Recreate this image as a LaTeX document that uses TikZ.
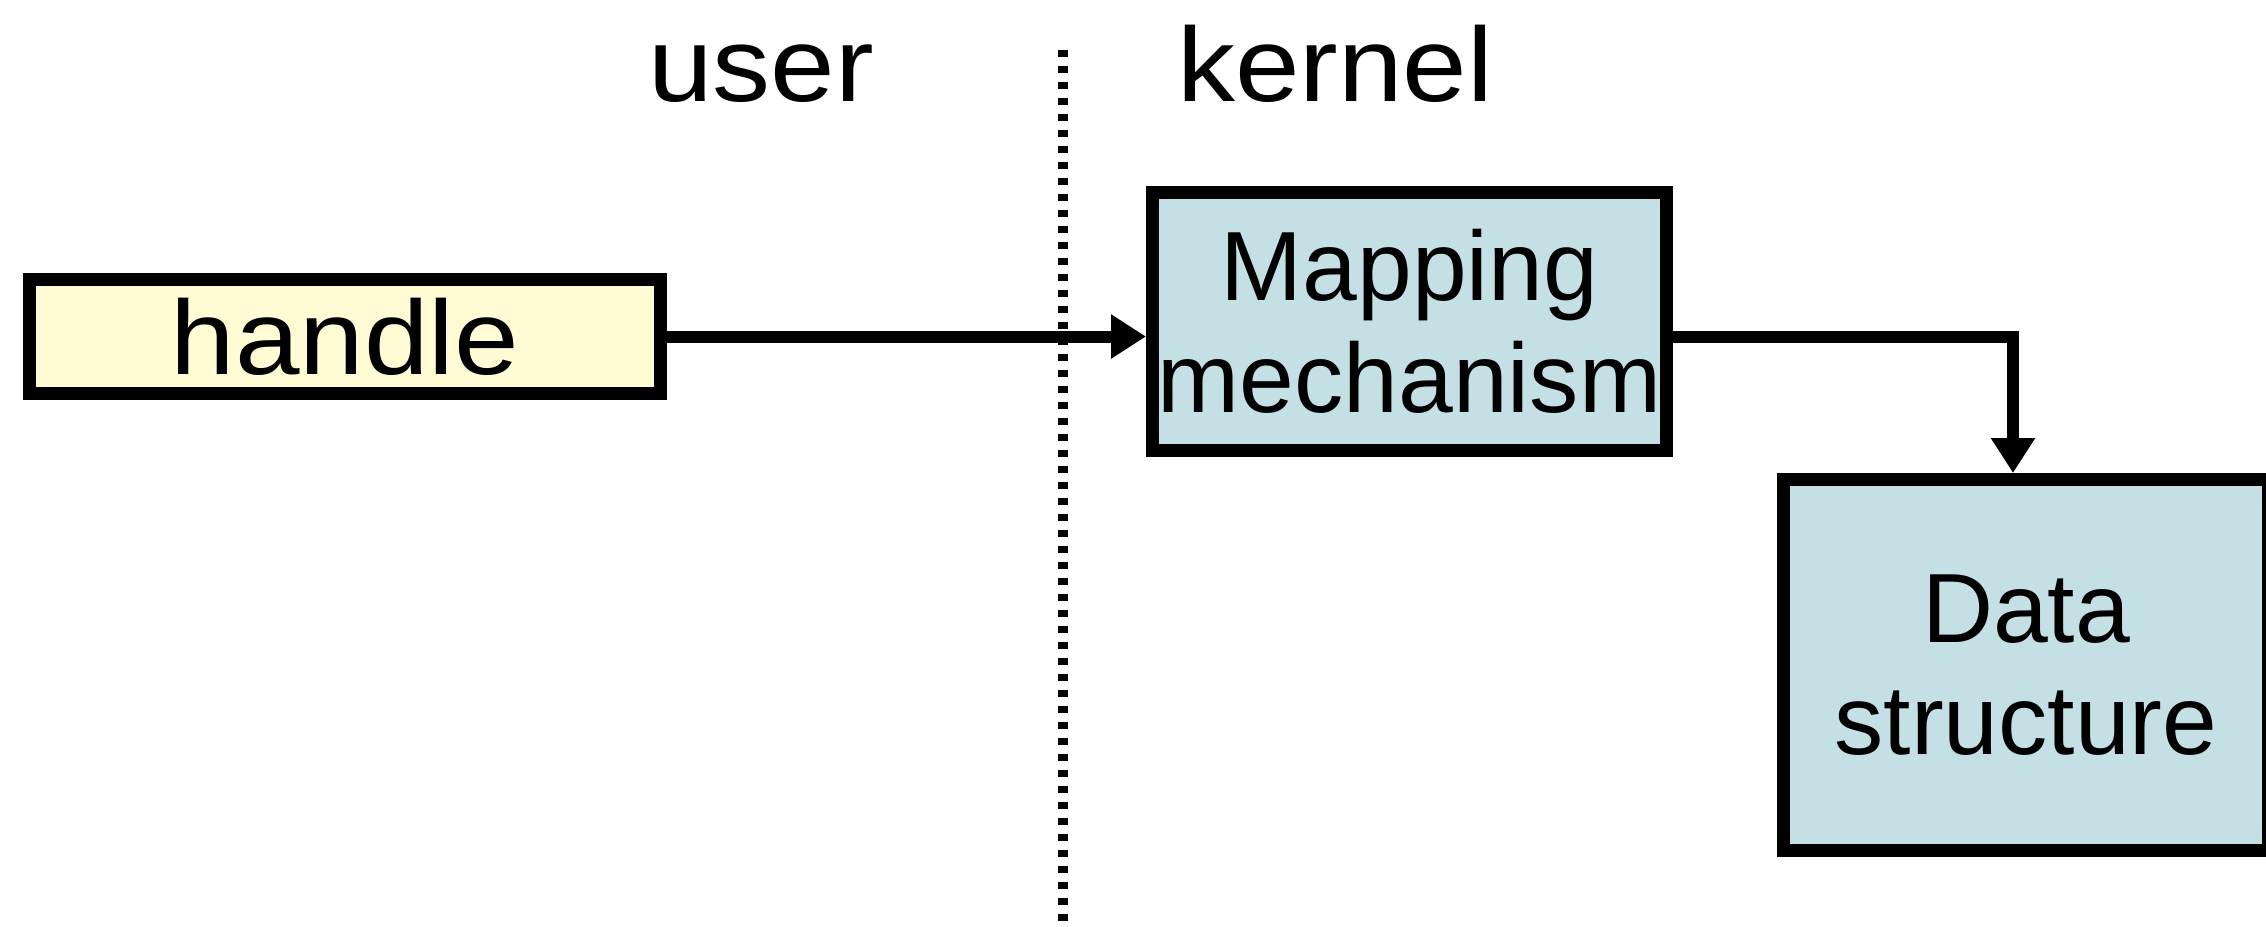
\documentclass[tikz,border=0pt]{standalone}
\usepackage{fontspec}
\setmainfont{Liberation Sans}
\usepackage{graphicx}
\usepackage{tikz}
\usetikzlibrary{arrows.meta}
\definecolor{handlefill}{RGB}{255,251,213}
\definecolor{kernfill}{RGB}{197,224,228}
\newcommand{\widetext}[1]{\scalebox{1.1}[1]{#1}}
\tikzset{
    box/.style={draw=black, line width=1.3mm, align=center, inner sep=0pt,
        font=\fontsize{28}{32}\selectfont},
    conn/.style={line width=1.2mm, -{Triangle[length=3.5mm,width=4.2mm]}},
    lbl/.style={font=\fontsize{30}{36}\selectfont, anchor=base, inner sep=0pt}
}
\begin{document}
\begin{tikzpicture}
    \useasboundingbox (0,0) rectangle (22.66,-9.26);

    % user / kernel split
    \coordinate (divtop) at (10.63,-0.5);
    \coordinate (divbot) at (10.63,-9.26);
    \draw[line width=1.0mm, dash pattern=on 0.7mm off 0.9mm] (divtop) -- (divbot);
    \node[lbl] (user) at (7.61,-1.01) {\widetext{user}};
    \node[lbl] (kernel) at (13.35,-1.01) {\widetext{kernel}};

    \node[box, fill=handlefill, minimum width=6.31cm, minimum height=1.14cm,
        font=\fontsize{30}{36}\selectfont] (handle) at (3.45,-3.365) {\widetext{handle}};
    \node[box, fill=kernfill, minimum width=5.14cm, minimum height=2.58cm]
        (map) at (14.095,-3.215) {Mapping\\mechanism};
    \node[box, fill=kernfill, minimum width=4.85cm, minimum height=3.71cm]
        (data) at (20.26,-6.65) {Data\\structure};

    % arrows
    \draw[conn] (handle.east) -- (handle.east -| map.west);
    \draw[conn] (handle.east -| map.east) -| ([xshift=-1.3mm]data.north);
\end{tikzpicture}
\end{document}
